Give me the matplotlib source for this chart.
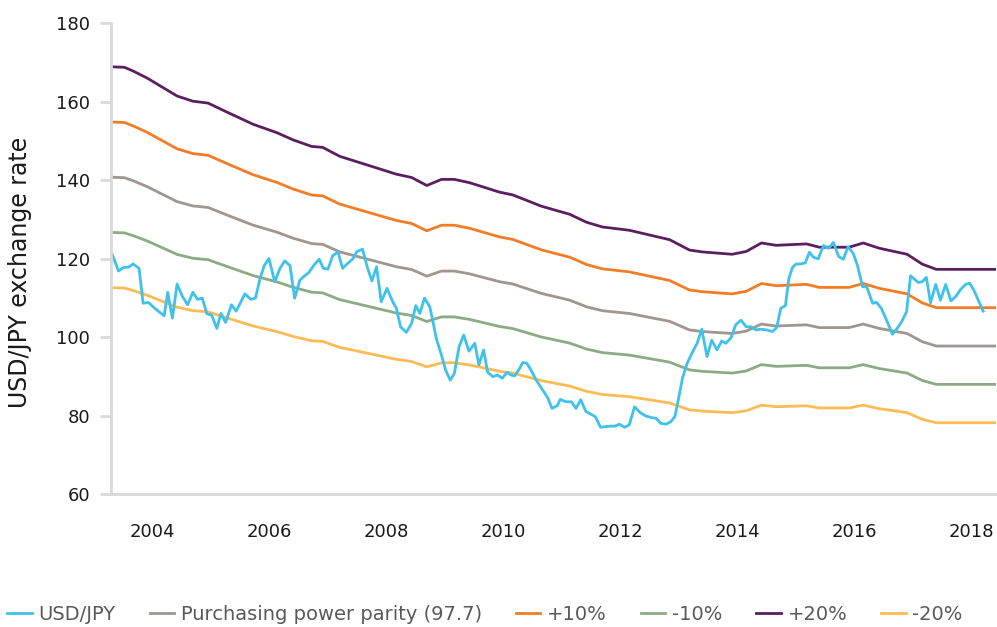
import numpy as np
import matplotlib
matplotlib.use("Agg")
import matplotlib.pyplot as plt

plt.rcParams['font.family'] = ['DejaVu Sans']

# purchasing power parity (knots), bands are +/-10% and +/-20% of it
ppp_years = [2003.31, 2003.52, 2003.67, 2003.91, 2004.42, 2004.69, 2004.95, 2005.27,
             2005.72, 2006.13, 2006.40, 2006.72, 2006.91, 2007.20, 2008.17, 2008.43,
             2008.69, 2008.94, 2009.16, 2009.42, 2009.93, 2010.16, 2010.65, 2011.13,
             2011.42, 2011.69, 2012.15, 2012.84, 2013.18, 2013.40, 2013.91, 2014.15,
             2014.41, 2014.66, 2015.18, 2015.40, 2015.91, 2016.15, 2016.42, 2016.64,
             2016.90, 2017.16, 2017.40, 2018.42]
ppp = [140.7, 140.6, 139.8, 138.3, 134.5, 133.4, 133.0, 131.1,
       128.5, 126.7, 125.2, 123.8, 123.6, 121.7, 117.9, 117.2,
       115.5, 116.8, 116.8, 116.1, 114.1, 113.5, 111.1, 109.4,
       107.7, 106.7, 106.0, 104.0, 101.8, 101.4, 100.9, 101.5,
       103.3, 102.8, 103.1, 102.4, 102.4, 103.3, 102.2, 101.6,
       100.9, 98.8, 97.7, 97.7]

# USD/JPY monthly
fx_years = [2003.31, 2003.42, 2003.50, 2003.59, 2003.67, 2003.77, 2003.84, 2003.93,
            2004.04, 2004.20, 2004.26, 2004.34, 2004.42, 2004.51, 2004.60, 2004.69,
            2004.77, 2004.85, 2004.93, 2005.01, 2005.10, 2005.17, 2005.25, 2005.35,
            2005.43, 2005.58, 2005.68, 2005.76, 2005.84, 2005.91, 2005.99, 2006.09,
            2006.18, 2006.26, 2006.35, 2006.43, 2006.52, 2006.60, 2006.67, 2006.76,
            2006.85, 2006.92, 2007.00, 2007.08, 2007.17, 2007.25, 2007.34, 2007.43,
            2007.49, 2007.59, 2007.67, 2007.75, 2007.83, 2007.91, 2008.01, 2008.10,
            2008.17, 2008.24, 2008.34, 2008.43, 2008.50, 2008.57, 2008.65, 2008.74,
            2008.79, 2008.85, 2008.94, 2009.01, 2009.09, 2009.16, 2009.24, 2009.32,
            2009.41, 2009.51, 2009.58, 2009.66, 2009.73, 2009.82, 2009.90, 2009.98,
            2010.06, 2010.13, 2010.19, 2010.26, 2010.33, 2010.40, 2010.47, 2010.56,
            2010.67, 2010.76, 2010.83, 2010.92, 2010.97, 2011.07, 2011.16, 2011.24,
            2011.32, 2011.41, 2011.50, 2011.57, 2011.66, 2011.76, 2011.84, 2011.91,
            2011.98, 2012.07, 2012.15, 2012.24, 2012.34, 2012.43, 2012.52, 2012.61,
            2012.69, 2012.78, 2012.86, 2012.93, 2013.01, 2013.06, 2013.14, 2013.22,
            2013.31, 2013.39, 2013.48, 2013.56, 2013.65, 2013.73, 2013.80, 2013.89,
            2013.97, 2014.06, 2014.15, 2014.23, 2014.32, 2014.40, 2014.50, 2014.60,
            2014.67, 2014.74, 2014.82, 2014.88, 2014.94, 2015.00, 2015.08, 2015.16,
            2015.23, 2015.30, 2015.38, 2015.47, 2015.56, 2015.64, 2015.73, 2015.81,
            2015.89, 2015.98, 2016.05, 2016.14, 2016.21, 2016.31, 2016.38, 2016.46,
            2016.56, 2016.65, 2016.72, 2016.80, 2016.89, 2016.96, 2017.02, 2017.09,
            2017.16, 2017.23, 2017.30, 2017.39, 2017.47, 2017.56, 2017.65, 2017.73,
            2017.82, 2017.90, 2017.97, 2018.04, 2018.13, 2018.20]
fx = [121.1, 116.8, 117.7, 117.8, 118.6, 117.5, 108.6, 108.8,
      107.3, 105.4, 111.4, 104.8, 113.5, 110.4, 108.2, 111.4,
      109.6, 109.9, 105.9, 105.6, 102.2, 106.0, 103.7, 108.2,
      106.6, 111.0, 109.6, 109.9, 115.0, 118.2, 120.0, 114.1,
      117.5, 119.4, 118.2, 109.9, 114.5, 115.6, 116.4, 118.3,
      119.8, 117.5, 117.3, 120.7, 121.7, 117.5, 118.8, 120.0,
      121.7, 122.4, 117.9, 114.3, 117.9, 109.0, 112.4, 109.2,
      107.3, 102.6, 101.2, 103.5, 108.0, 106.0, 109.9, 107.7,
      104.3, 99.7, 95.4, 91.6, 89.0, 90.7, 97.5, 100.5,
      96.4, 98.4, 92.9, 96.7, 91.0, 89.9, 90.3, 89.5,
      91.0, 90.3, 90.1, 91.6, 93.5, 93.3, 91.6, 89.0,
      86.5, 84.4, 81.8, 82.5, 84.1, 83.5, 83.5, 81.8,
      84.0, 81.0, 80.3, 79.7, 77.0, 77.2, 77.3, 77.3,
      77.8, 77.0, 77.6, 82.2, 80.7, 79.9, 79.5, 79.3,
      78.0, 77.8, 78.4, 79.7, 85.6, 89.5, 93.3, 95.8,
      98.4, 102.0, 95.0, 99.2, 96.7, 99.0, 98.4, 99.8,
      103.1, 104.3, 102.6, 102.6, 101.8, 102.0, 101.8, 101.4,
      102.4, 107.3, 108.0, 115.0, 117.7, 118.6, 118.6, 118.9,
      121.6, 120.3, 119.9, 123.3, 122.6, 124.1, 120.5, 119.8,
      123.0, 121.3, 118.3, 112.8, 112.8, 108.6, 108.8, 107.3,
      103.9, 100.7, 102.0, 103.7, 106.4, 115.6, 114.8, 113.9,
      114.1, 115.2, 108.7, 113.4, 109.4, 113.4, 109.2, 110.3,
      112.2, 113.4, 113.7, 112.0, 109.0, 106.6]

tick_years = [2004, 2006, 2008, 2010, 2012, 2014, 2016, 2018]
y_ticks = [60, 80, 100, 120, 140, 160, 180]

bands = [('+10%', 1.1, '#f47c26'), ('-10%', 0.9, '#8caa84'),
         ('+20%', 1.2, '#5b1f5e'), ('-20%', 0.8, '#fdbb56')]

fig = plt.figure(figsize=(9.97, 6.27), dpi=100)
ax = fig.add_axes([0.1113, 0.2121, 0.8877, 0.7512])

ppp_arr = np.array(ppp)
h_ppp, = ax.plot(ppp_years, ppp_arr, color='#a0968f', lw=2.0,
                 label='Purchasing power parity (97.7)')
band_handles = {}
for name, f, c in bands:
    band_handles[name], = ax.plot(ppp_years, ppp_arr * f, color=c, lw=2.0, label=name)
h_fx, = ax.plot(fx_years, fx, color='#3ec1ea', lw=2.0, label='USD/JPY')

ax.set_xlim(2003.29, 2018.42)
ax.set_ylim(60, 180)
ax.set_xticks(tick_years)
ax.set_xticklabels([str(t) for t in tick_years])
ax.set_yticks(y_ticks)

for s in ['top', 'right']:
    ax.spines[s].set_visible(False)
for s in ['left', 'bottom']:
    ax.spines[s].set_color('#d9d9d9')
    ax.spines[s].set_linewidth(2)

ax.tick_params(axis='y', length=8, width=2, color='#d9d9d9', pad=7,
               labelsize=13, labelcolor='#1a1a1a')
ax.tick_params(axis='x', length=0, pad=21, labelsize=13, labelcolor='#1a1a1a')
ax.set_ylabel('USD/JPY exchange rate', fontsize=17, color='#1a1a1a')
ax.yaxis.set_label_coords(-0.089, 0.47)

handles = [h_fx, h_ppp, band_handles['+10%'], band_handles['-10%'],
           band_handles['+20%'], band_handles['-20%']]
fig.legend(handles=handles, loc='center', bbox_to_anchor=(0.4865, 0.02),
           ncol=6, frameon=False, fontsize=14, handlelength=1.25,
           handletextpad=0.35, columnspacing=1.75, labelcolor='#595959',
           borderaxespad=0, borderpad=0)

fig.savefig('out.png', dpi=100)
